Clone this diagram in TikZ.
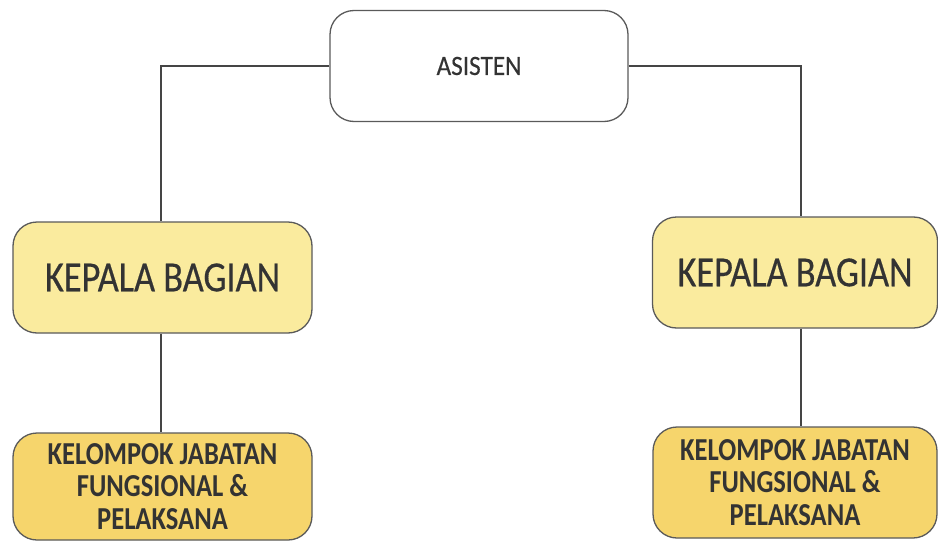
\documentclass[tikz,border=0pt]{standalone}
\usepackage{fontspec}
\setmainfont{Carlito}
\newfontfamily\headfont[FakeStretch=0.90, FakeBold=0.4]{Carlito}
\newfontfamily\chieffont[FakeStretch=0.845, FakeBold=0.4]{Carlito}
\newfontfamily\stafffont[FakeStretch=0.83]{Carlito Bold}
\definecolor{lineGray}{HTML}{454545}
\definecolor{edgeGray}{HTML}{5A5A5A}
\definecolor{textGray}{HTML}{333333}
\definecolor{paleGold}{HTML}{FAEB9E}
\definecolor{deepGold}{HTML}{F6D56C}
\tikzset{
  orgbox/.style={draw=edgeGray, line width=1.3pt, rounded corners=24pt,
    minimum width=#1, minimum height=111pt, inner sep=0pt, align=center,
    text=textGray},
  headbox/.style={orgbox=298pt, fill=white, font=\headfont\fontsize{28}{28}\selectfont},
  chiefbox/.style={orgbox=299pt, fill=paleGold, font=\chieffont\fontsize{43}{43}\selectfont},
  staffbox/.style={orgbox=299pt, fill=deepGold, font=\stafffont\fontsize{32}{32.5}\selectfont},
  link/.style={draw=lineGray, line width=1.1pt}
}
\begin{document}
\begin{tikzpicture}[x=1pt,y=-1pt]
  \useasboundingbox (0,0) rectangle (938,541);
  \fill[white] (0,0) rectangle (938,541);

  % top position
  \node[headbox] (asisten) at (479,66) {ASISTEN};

  % heads of division
  \node[chiefbox] (kbL) at (162.5,277.5) {KEPALA BAGIAN};
  \node[chiefbox, minimum width=285pt] (kbR) at (795,272.5) {KEPALA BAGIAN};

  % functional groups and staff
  \node[staffbox, minimum height=107pt] (kjL) at (162.5,486.5)
    {KELOMPOK JABATAN\\FUNGSIONAL \&\\PELAKSANA};
  \node[staffbox, minimum width=284pt] (kjR) at (795,482.5)
    {KELOMPOK JABATAN\\FUNGSIONAL \&\\PELAKSANA};

  % connectors
  \draw[link] (asisten.west) -| ([xshift=-1.5pt]kbL.north);
  \draw[link] (asisten.east) -| ([xshift=6pt]kbR.north);
  \draw[link] ([xshift=-1.5pt]kbL.south) -- ([xshift=-1.5pt]kjL.north);
  \draw[link] ([xshift=6pt]kbR.south) -- ([xshift=6pt]kjR.north);
\end{tikzpicture}
\end{document}
